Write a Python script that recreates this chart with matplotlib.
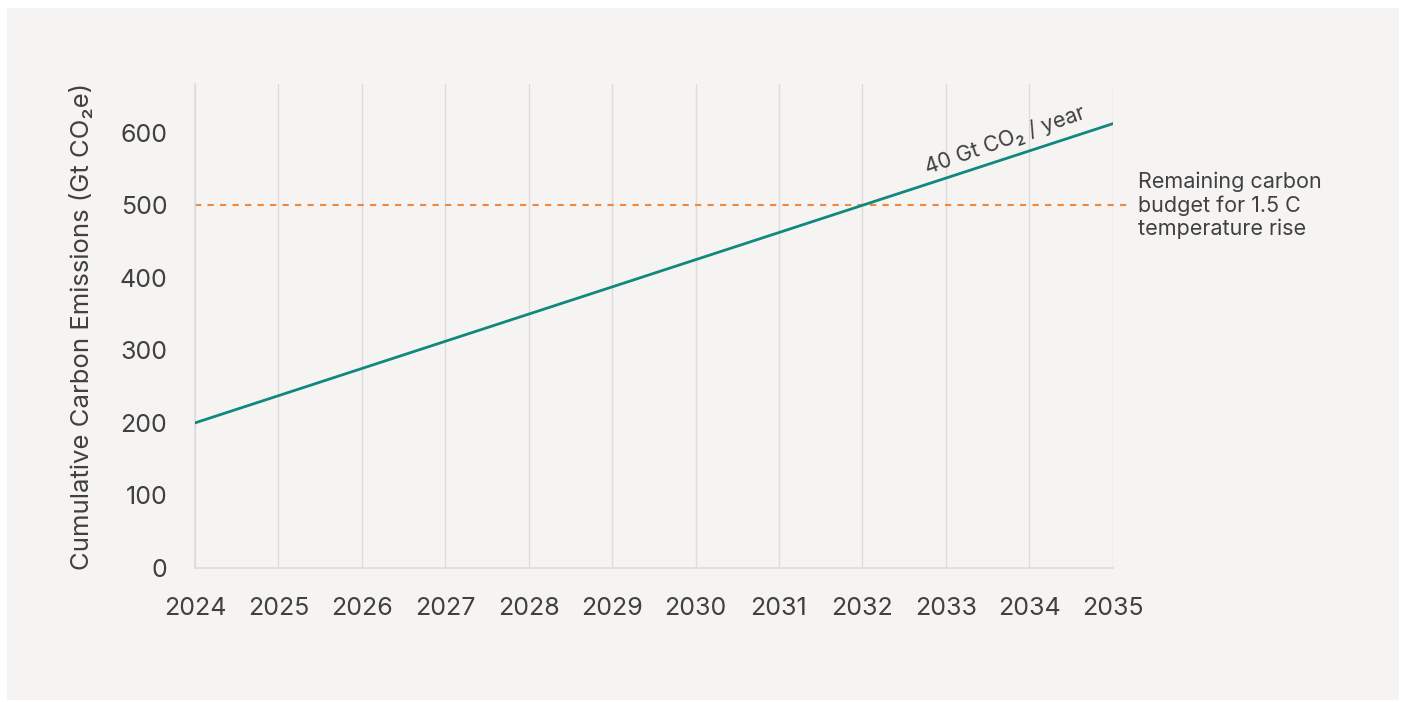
import matplotlib.pyplot as plt
from matplotlib.patches import Rectangle

plt.rcParams['font.family'] = ['Inter', 'DejaVu Sans']

# cumulative emissions path, Gt CO2e
years = [2024, 2025, 2026, 2027, 2028, 2029, 2030, 2031, 2032, 2033, 2034, 2035]
cumulative = [200, 237.5, 275, 312.5, 350, 387.5, 425, 462.5, 500, 537.5, 575, 612.5]
budget = 500
yticks = [0, 100, 200, 300, 400, 500, 600]

text_col = '#404040'
teal = '#11887d'
orange = '#f0883e'
grid_col = '#dcdcdc'

fig = plt.figure(figsize=(14.03, 7.02), dpi=100)
fig.patch.set_facecolor('white')
fig.patches.append(Rectangle((7 / 1403, 2 / 702), 1392 / 1403, 692 / 702,
                             transform=fig.transFigure, facecolor='#f5f4f2',
                             edgecolor='none', zorder=-10))

ax = fig.add_axes([0.139, 0.191, 0.654, 0.689])
ax.set_facecolor('none')

ax.plot(years, cumulative, color=teal, lw=2, zorder=3)
ax.plot([years[0], years[-1] + 0.2], [budget, budget], color=orange, lw=1.5,
        ls=(0, (3, 3)), clip_on=False, zorder=2)

ax.set_xlim(years[0], years[-1])
ax.set_ylim(0, 667)
ax.set_xticks(years)
ax.set_yticks(yticks)
ax.tick_params(length=0, colors=text_col, labelsize=18)
ax.tick_params(axis='y', pad=20)
ax.tick_params(axis='x', pad=21)
ax.grid(axis='x', color=grid_col, lw=1)
ax.set_axisbelow(True)

for side in ['top', 'right']:
    ax.spines[side].set_visible(False)
for side in ['left', 'bottom']:
    ax.spines[side].set_color(grid_col)
    ax.spines[side].set_linewidth(1.2)

ax.set_ylabel('Cumulative Carbon Emissions (Gt CO₂e)', color=text_col,
              fontsize=18.5, labelpad=18)

ax.text(2033.75, 576, '40 Gt CO₂ / year', rotation=19.5, rotation_mode='anchor',
        ha='center', va='bottom', color=text_col, fontsize=15.5,
        transform=ax.transData)
ax.text(1.028, budget, 'Remaining carbon\nbudget for 1.5 C\ntemperature rise',
        transform=ax.get_yaxis_transform(), ha='left', va='center',
        color=text_col, fontsize=15.5, linespacing=1.2)

fig.savefig('out.png', dpi=100, facecolor=fig.get_facecolor())
